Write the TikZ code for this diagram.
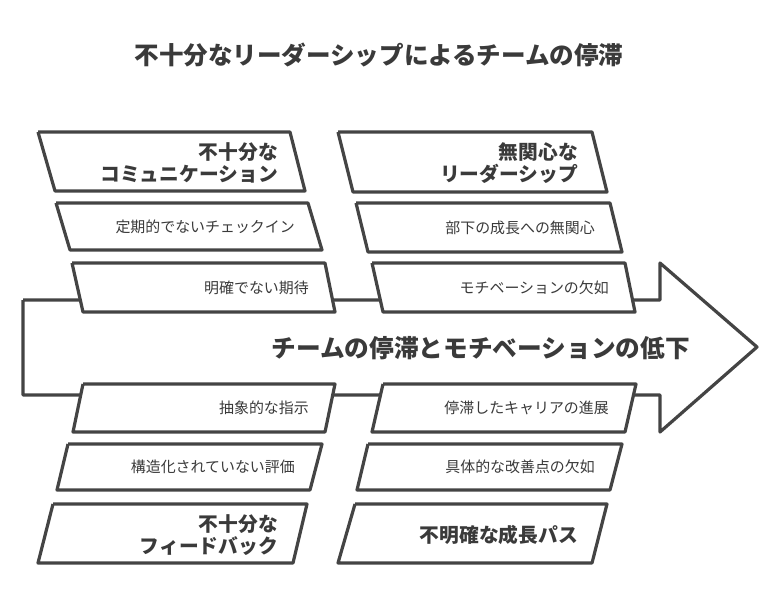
\documentclass[tikz,border=0pt]{standalone}
\usepackage{fontspec}
\setmainfont{Noto Sans CJK JP}
\usepackage{xcolor}
\usepackage{tikz}
\usetikzlibrary{math}
\definecolor{ink}{HTML}{444444}
\definecolor{txt}{HTML}{3A3A3A}

\begin{document}
\begin{tikzpicture}[x=0.75pt,y=-0.75pt,
	slab/.style={draw=ink,fill=white,line width=2.4pt,line join=round},
	head/.style={anchor=east,inner sep=0pt,align=right,text=txt,font=\fontsize{14.8pt}{16.5pt}\selectfont\bfseries},
	cause/.style={anchor=east,inner sep=0pt,text=txt,font=\fontsize{11.2pt}{13pt}\selectfont}]
\useasboundingbox (0,0) rectangle (780,612);
\tikzmath{
	\spinel = 23;\neckx = 660;\tipx = 757;
	\spinetop = 300;\spinebot = 395;\headtop = 263;\headbot = 432;\midy = 347;
	% spine
	{\draw[slab] plot[] coordinates {(\spinel,\spinetop) (\neckx,\spinetop) (\neckx,\headtop) (\tipx,\midy) (\neckx,\headbot) (\neckx,\spinebot) (\spinel,\spinebot) (\spinel,\spinetop)};};
	{\node[text=txt,font=\fontsize{18.4pt}{20pt}\selectfont\bfseries] (title) at (379,55) {不十分なリーダーシップによるチームの停滞};};
	{\node[anchor=east,inner sep=0pt,text=txt,font=\fontsize{18.5pt}{20pt}\selectfont\bfseries] (goal) at (690,348) {チームの停滞とモチベーションの低下};};
	% upper left
	{\draw[slab] plot[] coordinates {(38,132) (290,132) (305,191) (55,191) (38,132)};};
	{\draw[slab] plot[] coordinates {(56,203) (308,203) (322,250) (70,250) (56,203)};};
	{\draw[slab] plot[] coordinates {(72,263) (325,263) (335,312) (83,312) (72,263)};};
	{\node[head] (c1) at (278,163) {不十分な\\コミュニケーション};};
	{\node[cause] (c1a) at (295,227) {定期的でないチェックイン};};
	{\node[cause] (c1b) at (309,288) {明確でない期待};};
	% upper right
	{\draw[slab] plot[] coordinates {(338,132) (592,132) (607,192) (353,192) (338,132)};};
	{\draw[slab] plot[] coordinates {(356,203) (610,203) (622,252) (368,252) (356,203)};};
	{\draw[slab] plot[] coordinates {(372,263) (625,263) (635,312) (383,312) (372,263)};};
	{\node[head] (c2) at (578,163) {無関心な\\リーダーシップ};};
	{\node[cause] (c2a) at (595,228) {部下の成長への無関心};};
	{\node[cause] (c2b) at (609,288) {モチベーションの欠如};};
	% lower left
	{\draw[slab] plot[] coordinates {(83,384) (335,384) (325,432) (73,432) (83,384)};};
	{\draw[slab] plot[] coordinates {(68,444) (322,444) (310,490) (57,490) (68,444)};};
	{\draw[slab] plot[] coordinates {(53,504) (307,504) (293,563) (38,563) (53,504)};};
	{\node[cause] (c3a) at (309,408) {抽象的な指示};};
	{\node[cause] (c3b) at (295,467) {構造化されていない評価};};
	{\node[head] (c3) at (278,535) {不十分な\\フィードバック};};
	% lower right
	{\draw[slab] plot[] coordinates {(383,384) (636,384) (625,432) (372,432) (383,384)};};
	{\draw[slab] plot[] coordinates {(368,444) (622,444) (610,490) (357,490) (368,444)};};
	{\draw[slab] plot[] coordinates {(355,504) (607,504) (592,563) (338,563) (355,504)};};
	{\node[cause] (c4a) at (609,408) {停滞したキャリアの進展};};
	{\node[cause] (c4b) at (595,467) {具体的な改善点の欠如};};
	{\node[head] (c4) at (578,535) {不明確な成長パス};};
};
\end{tikzpicture}
\end{document}
